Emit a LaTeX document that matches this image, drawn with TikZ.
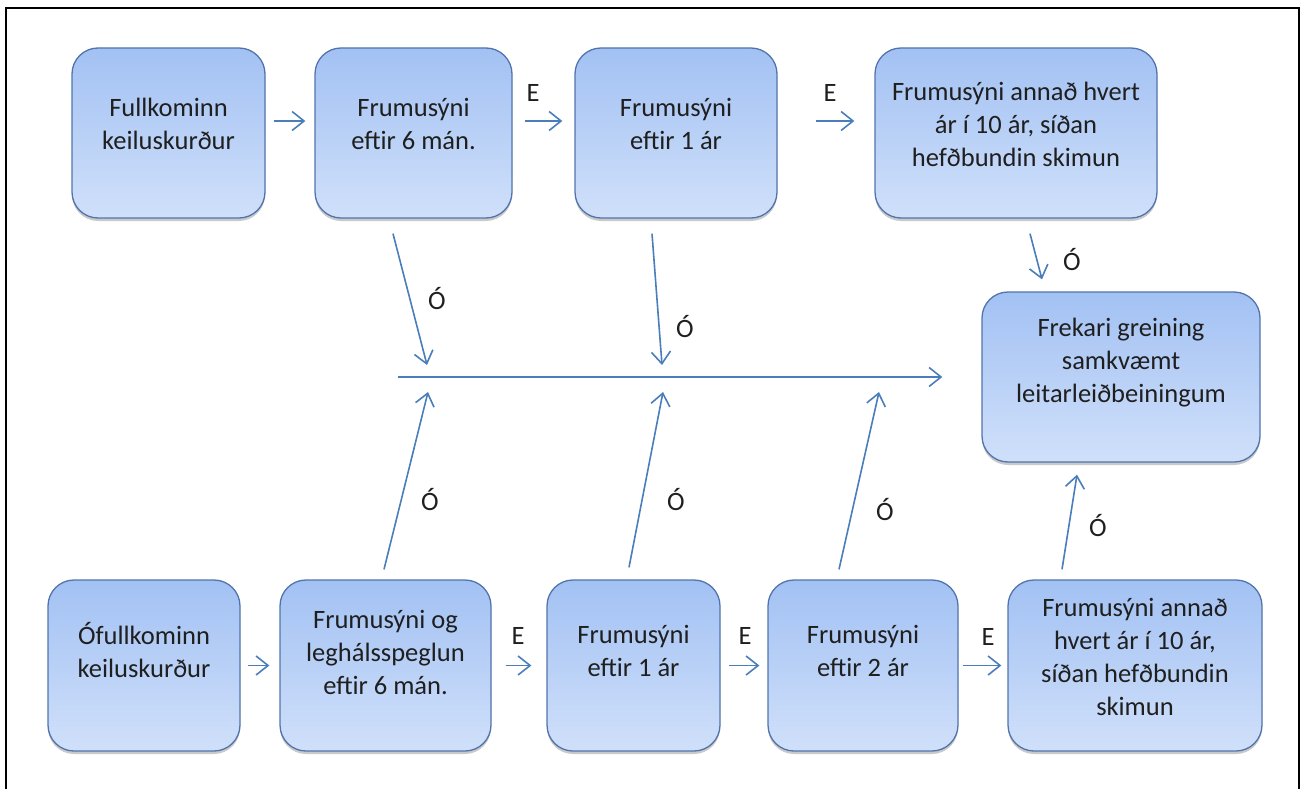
\documentclass[tikz,border=0pt]{standalone}
\usepackage{fontspec}
\setmainfont{Carlito}
\usetikzlibrary{arrows.meta,shadows}
\definecolor{boxtop}{RGB}{162,193,243}
\definecolor{boxbot}{RGB}{208,224,250}
\definecolor{boxline}{RGB}{82,116,172}
\definecolor{arrblue}{RGB}{74,126,187}
\begin{document}
\begin{tikzpicture}[x=1pt,y=-1pt,
  box/.style={rectangle, rounded corners=26pt, draw=boxline, line width=1.3pt,
    top color=boxtop, bottom color=boxbot, inner sep=0pt,
    drop shadow={shadow xshift=0pt, shadow yshift=-3pt, opacity=0.3, fill=black!70}},
  txt/.style={align=center, font=\fontsize{26.5}{33}\selectfont, text=black!88, inner sep=0pt},
  arr/.style={draw=arrblue, line width=1.6pt, -{Straight Barb[length=12pt,width=19pt,line width=1.6pt]}},
  lab/.style={font=\fontsize{26.5}{30}\selectfont, text=black!88, inner sep=0pt}]
\useasboundingbox (0,0) rectangle (1301,789);
% frame
\draw[black, line width=2pt] (6,789) -- (6,8) -- (1299,8) -- (1299,789);

% top row
\node[box, minimum width=193pt, minimum height=170pt,
  label={[txt,name=T1t,yshift=9pt]center:Fullkominn\\keiluskurður}] (T1) at (168.5,133) {};
\node[box, minimum width=197pt, minimum height=170pt,
  label={[txt,name=T2t,yshift=9pt]center:Frumusýni\\eftir 6 mán.}] (T2) at (413.5,133) {};
\node[box, minimum width=202pt, minimum height=170pt,
  label={[txt,name=T3t,yshift=9pt]center:Frumusýni\\eftir 1 ár}] (T3) at (676,133) {};
\node[box, minimum width=282pt, minimum height=170pt,
  label={[txt,name=T4t,yshift=9pt]center:Frumusýni annað hvert\\ár í 10 ár, síðan\\hefðbundin skimun}] (T4) at (1016,133) {};
\node[box, minimum width=278pt, minimum height=170pt,
  label={[txt,name=Ft,yshift=14pt]center:Frekari greining\\samkvæmt\\leitarleiðbeiningum}] (F) at (1121,377) {};

% bottom row
\node[box, minimum width=192pt, minimum height=171pt,
  label={[txt,name=B1t,yshift=15pt]center:Ófullkominn\\keiluskurður}] (B1) at (144,665.5) {};
\node[box, minimum width=211pt, minimum height=171pt,
  label={[txt,name=B2t,yshift=13pt]center:Frumusýni og\\leghálsspeglun\\eftir 6 mán.}] (B2) at (385.5,665.5) {};
\node[box, minimum width=173pt, minimum height=171pt,
  label={[txt,name=B3t,yshift=15pt]center:Frumusýni\\eftir 1 ár}] (B3) at (633.5,665.5) {};
\node[box, minimum width=190pt, minimum height=171pt,
  label={[txt,name=B4t,yshift=15pt]center:Frumusýni\\eftir 2 ár}] (B4) at (863,665.5) {};
\node[box, minimum width=254pt, minimum height=171pt,
  label={[txt,name=B5t,yshift=9pt]center:Frumusýni annað\\hvert ár í 10 ár,\\síðan hefðbundin\\skimun}] (B5) at (1135,665.5) {};

% top horizontal arrows
\draw[arr, shorten <=8pt, shorten >=9pt] ([yshift=12pt]T1.east) -- ([yshift=12pt]T2.west);
\draw[arr, shorten <=12pt, shorten >=12pt] ([yshift=12pt]T2.east) -- ([yshift=12pt]T3.west);
\draw[arr, shorten <=38pt, shorten >=20pt] ([yshift=12pt]T3.east) -- ([yshift=12pt]T4.west);

% bottom horizontal arrows
\draw[arr, shorten <=7pt, shorten >=10pt] (B1.east) -- (B2.west);
\draw[arr, shorten <=14pt, shorten >=15pt] (B2.east) -- (B3.west);
\draw[arr, shorten <=8pt, shorten >=8pt] (B3.east) -- (B4.west);
\draw[arr, shorten <=4pt, shorten >=6pt] (B4.east) -- (B5.west);

% main horizontal line
\coordinate (L0) at (398,377);
\draw[arr, shorten >=39pt] (L0) -- (F.west);

% down arrows
\coordinate (d1) at (427,365);
\coordinate (d2) at (662,365);
\draw[arr] ([shift={(-20.5,15)}]T2.south) -- (d1);
\draw[arr] ([shift={(-24,15)}]T3.south) -- (d2);
\draw[arr] ([shift={(14,15)}]T4.south) -- ([shift={(-79,-12)}]F.north);

% up arrows
\coordinate (u1) at (428,392);
\coordinate (u2) at (663,392);
\coordinate (u3) at (879,392);
\draw[arr] ([shift={(-1.5,-10)}]B2.north) -- (u1);
\draw[arr] ([shift={(-4.5,-12)}]B3.north) -- (u2);
\draw[arr] ([shift={(-24,-10)}]B4.north) -- (u3);
\draw[arr] ([shift={(-73,-10)}]B5.north) -- ([shift={(-44,12)}]F.south);

% labels
\node[lab] (e1) at (533,93) {E};
\node[lab] (e2) at (830,93) {E};
\node[lab] (e3) at (518,636) {E};
\node[lab] (e4) at (745,636) {E};
\node[lab] (e5) at (988,637) {E};
\node[lab] (o1) at (437,299) {Ó};
\node[lab] (o2) at (685,327) {Ó};
\node[lab] (o3) at (1072,260) {Ó};
\node[lab] (o4) at (430,500) {Ó};
\node[lab] (o5) at (676,500) {Ó};
\node[lab] (o6) at (885,510) {Ó};
\node[lab] (o7) at (1098,526) {Ó};
\end{tikzpicture}
\end{document}
